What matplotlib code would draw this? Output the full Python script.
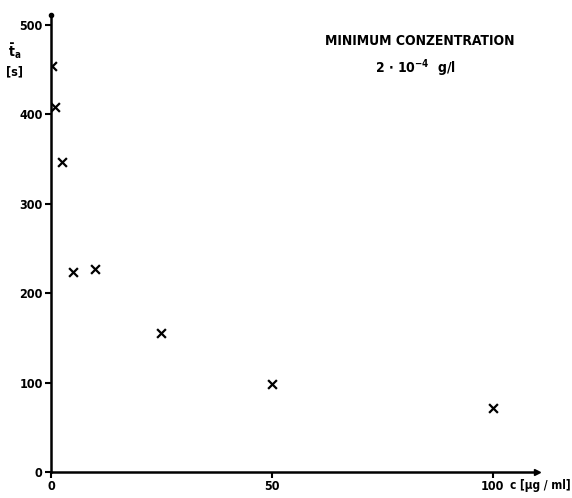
import matplotlib.pyplot as plt

# concentration c [ug/ml] vs mean time t_a [s]
conc = [0.25, 1, 2.5, 5, 10, 25, 50, 100]
t_a = [454, 408, 347, 224, 227, 155, 98, 72]

x_ticks = [0, 50, 100]
y_ticks = [0, 100, 200, 300, 400, 500]

plt.rcParams['font.family'] = ['DejaVu Sans']
plt.rcParams['font.stretch'] = 'condensed'
plt.rcParams['font.weight'] = 'bold'

fig = plt.figure(figsize=(5.72, 4.98), dpi=100)
ax = fig.add_axes([51 / 572, 26 / 498, 486 / 572, 457 / 498])

ax.scatter(conc, t_a, marker='x', s=40, color='black', linewidths=1.6, zorder=3)

ax.set_xlim(0, 110)
ax.set_ylim(0, 511)
ax.set_xticks(x_ticks)
ax.set_yticks(y_ticks)
ax.tick_params(axis='both', length=4, width=1.5, labelsize=9, pad=2)
ax.tick_params(axis='x', direction='out')

for s in ['top', 'right']:
    ax.spines[s].set_visible(False)
for s in ['left', 'bottom']:
    ax.spines[s].set_linewidth(1.8)

# arrow on x axis, dot at top of y axis
ax.plot(1, 0, '>', color='black', ms=5, transform=ax.transAxes, clip_on=False)
ax.plot(0, 1, 'o', color='black', ms=3, transform=ax.transAxes, clip_on=False)

ax.text(104, -8, 'c [\u00b5g / ml]', ha='left', va='top', fontsize=8.5, fontweight='bold')
ax.text(-0.075, 0.90, r'$\bar{\mathbf{t}}_{\mathbf{a}}$', transform=ax.transAxes,
        ha='center', va='bottom', fontsize=10)
ax.text(-0.075, 0.89, '[s]', transform=ax.transAxes, ha='center', va='top', fontsize=9)

ax.text(83.5, 482, 'MINIMUM CONZENTRATION', ha='center', va='center', fontsize=10, fontweight='bold')
ax.text(82.5, 452, r'2 $\cdot$ 10$^{\mathbf{-4}}$  g/l', ha='center', va='center', fontsize=10)

fig.savefig('out.png', dpi=100)
